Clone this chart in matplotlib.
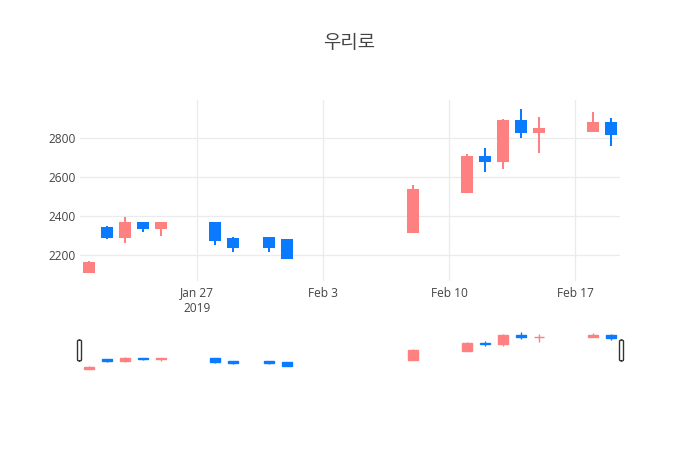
import matplotlib
matplotlib.use("Agg")
import matplotlib.pyplot as plt
import matplotlib.dates as mdates
from matplotlib.patches import Rectangle, FancyBboxPatch
import datetime as dt

# ---- data ----
dates = ["2019-01-21", "2019-01-22", "2019-01-23", "2019-01-24", "2019-01-25",
         "2019-01-28", "2019-01-29", "2019-01-31", "2019-02-01", "2019-02-08",
         "2019-02-11", "2019-02-12", "2019-02-13", "2019-02-14", "2019-02-15",
         "2019-02-18", "2019-02-19"]
opens  = [2113, 2341, 2292, 2364, 2341, 2364, 2284, 2287, 2275, 2316,
          2526, 2706, 2685, 2890, 2834, 2836, 2880]
highs  = [2169, 2347, 2395, 2369, 2364, 2369, 2294, 2295, 2275, 2560,
          2719, 2749, 2900, 2950, 2911, 2935, 2903]
lows   = [2113, 2282, 2262, 2316, 2300, 2251, 2217, 2218, 2185, 2316,
          2526, 2627, 2641, 2800, 2723, 2836, 2762]
closes = [2159, 2295, 2364, 2341, 2364, 2275, 2241, 2241, 2185, 2535,
          2706, 2685, 2890, 2831, 2846, 2880, 2822]
title = "우리로"
xtick_dates = ["2019-01-27", "2019-02-03", "2019-02-10", "2019-02-17"]
xtick_labels = ["Jan 27\n2019", "Feb 3", "Feb 10", "Feb 17"]
ytick_vals = [2200, 2400, 2600, 2800]

UP = "#FF8080"
DOWN = "#0A7BFF"
TXT = "#444444"
GRID = "#EBEBEB"

plt.rcParams['font.family'] = ['Open Sans', 'DejaVu Sans']

W, H = 700, 450
fig = plt.figure(figsize=(7, 4.5), dpi=100)

def frac(x0, y0, x1, y1):
    return [x0 / W, 1 - y1 / H, (x1 - x0) / W, (y1 - y0) / H]

ax = fig.add_axes(frac(80, 100, 620, 281))
sl = fig.add_axes(frac(80, 330, 620, 371))

xs = [mdates.date2num(dt.datetime.strptime(d, "%Y-%m-%d")) for d in dates]
x0 = xs[0] - 0.5
x1 = xs[-1] + 0.5
lo, hi = min(lows), max(highs)
pad = 0.055 * (hi - lo)
ylo, yhi = lo - pad, hi + pad

def draw(a, bw, lw):
    for x, o, h, l, c in zip(xs, opens, highs, lows, closes):
        col = UP if c >= o else DOWN
        a.plot([x, x], [l, h], color=col, lw=lw, solid_capstyle='butt', zorder=3)
        b0, b1 = min(o, c), max(o, c)
        a.add_patch(Rectangle((x - bw / 2, b0), bw, max(b1 - b0, 1),
                              facecolor=col, edgecolor=col, lw=lw, zorder=4))

draw(ax, 0.52, 1.45)
draw(sl, 0.52, 1.0)

for a in (ax, sl):
    a.set_xlim(x0, x1)
    a.set_ylim(ylo, yhi)
    for s in a.spines.values():
        s.set_visible(False)

ax.set_yticks(ytick_vals)
ax.set_yticklabels([str(v) for v in ytick_vals])
ax.set_xticks([mdates.date2num(dt.datetime.strptime(d, "%Y-%m-%d")) for d in xtick_dates])
ax.set_xticklabels(xtick_labels, linespacing=1.25)
ax.tick_params(axis='both', length=0, labelsize=8.6, colors=TXT)
ax.tick_params(axis='x', pad=4)
ax.tick_params(axis='y', pad=3)
ax.grid(True, color=GRID, lw=0.9, zorder=0)
ax.set_axisbelow(True)

sl.set_xticks([])
sl.set_yticks([])

# range slider handles
for hx in (77.5, 619.5):
    fx, fy, fw, fh = frac(hx, 340, hx + 4, 361)
    fig.patches.append(FancyBboxPatch((fx, fy), fw, fh,
                                      boxstyle="round,pad=0,rounding_size=0.003",
                                      transform=fig.transFigure, facecolor='white',
                                      edgecolor='#333333', lw=1.0, zorder=10))

fig.text(349 / W, 1 - 43 / H, title, ha='center', va='center', fontsize=13.6,
         color=TXT, family=['Noto Sans CJK KR', 'DejaVu Sans'])

fig.savefig("out.png", dpi=100, facecolor='white')
